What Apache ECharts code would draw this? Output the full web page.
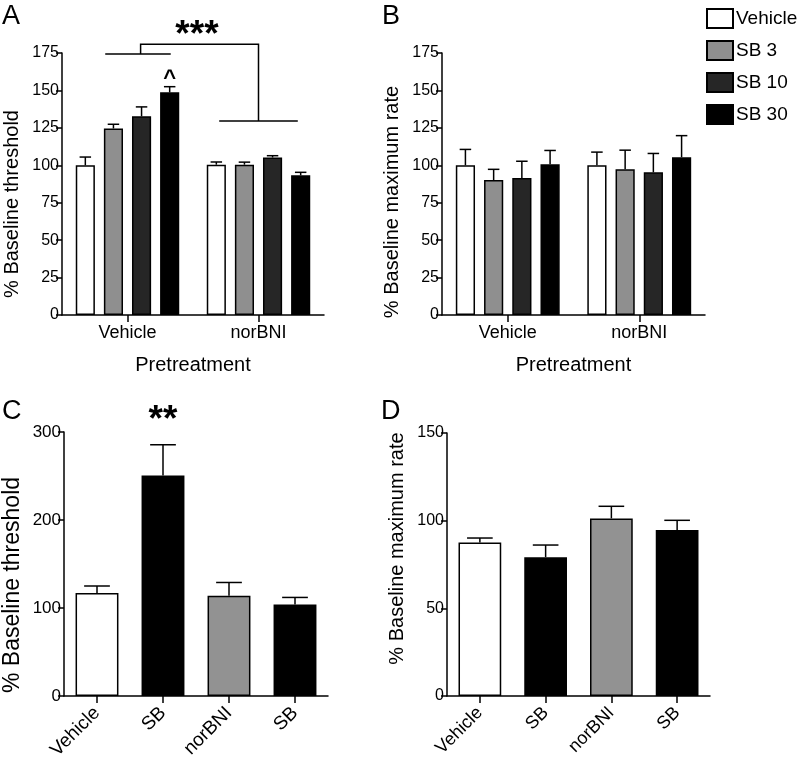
<!DOCTYPE html>
<html>
<head>
<meta charset="utf-8">
<script src="https://cdn.jsdelivr.net/npm/echarts@6/dist/echarts.min.js"></script>
<style>
html,body{margin:0;padding:0;background:#fff;}
#chart{width:797px;height:765px;}
</style>
</head>
<body>
<div id="chart"></div>
<script>
// ---------- data ----------
const pretreatCategories = ['Vehicle', 'norBNI'];
const doseNames = ['Vehicle', 'SB 3', 'SB 10', 'SB 30'];

// Panel A: % baseline threshold (mean, SEM) per dose, per pretreatment
const aVehicleMean = [100.0, 100.4];
const aVehicleSem  = [5.5, 1.8];
const aSB3Mean     = [124.6, 100.4];
const aSB3Sem      = [2.8, 1.7];
const aSB10Mean    = [132.7, 105.2];
const aSB10Sem     = [6.3, 1.2];
const aSB30Mean    = [148.7, 93.3];
const aSB30Sem     = [3.8, 2.0];

// Panel B: % baseline maximum rate
const bVehicleMean = [100.0, 100.0];
const bVehicleSem  = [10.6, 8.8];
const bSB3Mean     = [90.1, 97.3];
const bSB3Sem      = [7.2, 12.8];
const bSB10Mean    = [91.5, 95.3];
const bSB10Sem     = [11.2, 12.6];
const bSB30Mean    = [100.7, 105.4];
const bSB30Sem     = [9.2, 14.4];

// Panels C and D
const cdCategories = ['Vehicle', 'SB', 'norBNI', 'SB'];
const cMean = [117.0, 250.5, 114.0, 104.0];
const cSem  = [8.0, 35.0, 15.0, 8.0];
const dMean = [87.6, 79.2, 101.3, 94.7];
const dSem  = [2.5, 6.9, 6.9, 5.5];

// tick settings
const abTicks = {min: 0, max: 175, interval: 25};
const cTicks  = {min: 0, max: 300, interval: 100};
const dTicks  = {min: 0, max: 150, interval: 50};

// significance bracket in panel A (data units: x = group index, y = %)
const bracketA = [
  [[-0.17, 174.4], [0.33, 174.4]],
  [[0.10, 174.4], [0.10, 180.8], [1.00, 180.8], [1.00, 129.5]],
  [[0.70, 129.5], [1.30, 129.5]]
];

// ---------- styling ----------
const FONT = 'Liberation Sans, Arial, Helvetica, sans-serif';
const doseColors = ['#ffffff', '#8f8f8f', '#262626', '#000000'];
const cdColors = ['#ffffff', '#000000', '#929292', '#000000'];
const LW = 1.5;

const abMeans = [[aVehicleMean, aSB3Mean, aSB10Mean, aSB30Mean], [bVehicleMean, bSB3Mean, bSB10Mean, bSB30Mean]];
const abSems  = [[aVehicleSem, aSB3Sem, aSB10Sem, aSB30Sem], [bVehicleSem, bSB3Sem, bSB10Sem, bSB30Sem]];

const BAR_FRAC = 0.146, BAR_GAP = 0.47;
const STEP_FRAC = BAR_FRAC * (1 + BAR_GAP);
const CD_BAR_FRAC = 0.65;

function errRender(nSlots, stepFrac, barFrac) {
  return function (params, api) {
    const band = api.size([1, 0])[0];
    const slot = api.value(3);
    const dx = (slot - (nSlots - 1) / 2) * stepFrac * band;
    const p0 = api.coord([api.value(0), api.value(1)]);
    const p1 = api.coord([api.value(0), api.value(2)]);
    const x = p0[0] + dx;
    const half = barFrac * band * 0.3;
    return {
      type: 'group',
      children: [
        {type: 'line', shape: {x1: x, y1: p0[1], x2: x, y2: p1[1]}, style: {stroke: '#000', lineWidth: LW}},
        {type: 'line', shape: {x1: x - half, y1: p1[1], x2: x + half, y2: p1[1]}, style: {stroke: '#000', lineWidth: LW}}
      ]
    };
  };
}

const axisLineStyle = {show: true, onZero: false, lineStyle: {color: '#000', width: LW}};
function yAxis(gridIndex, ticks, name, pad, labelSize, nameSize, gap) {
  return {
    type: 'value', gridIndex, min: ticks.min, max: ticks.max, interval: ticks.interval,
    name, nameLocation: 'middle', nameGap: gap,
    nameTextStyle: {fontSize: nameSize, color: '#000', fontFamily: FONT, padding: pad},
    axisLine: axisLineStyle,
    axisTick: {show: true, length: 6, lineStyle: {color: '#000', width: LW}},
    axisLabel: {fontSize: labelSize, color: '#000', fontFamily: FONT, margin: 3},
    splitLine: {show: false}
  };
}
function catAxis(gridIndex, data, name, rotate, labelSize, margin) {
  return {
    type: 'category', gridIndex, data,
    name, nameLocation: 'middle', nameGap: 40,
    nameTextStyle: {fontSize: 20, color: '#000', fontFamily: FONT},
    axisLine: axisLineStyle,
    axisTick: {show: true, alignWithLabel: true, length: 7, lineStyle: {color: '#000', width: LW}},
    axisLabel: {fontSize: labelSize, color: '#000', fontFamily: FONT, rotate: rotate || 0, margin: margin, interval: 0},
    splitLine: {show: false}
  };
}
function hiddenValueX(gridIndex, n) {
  return {type: 'value', gridIndex, min: -0.5, max: n - 0.5, show: false, splitLine: {show: false},
    axisLine: {show: false, onZero: false}};
}

const series = [];
// Panels A and B bars + error bars
[0, 1].forEach(function (p) {
  const xIdx = p === 0 ? 0 : 2;
  const errData = [];
  doseNames.forEach(function (name, s) {
    const means = abMeans[p][s], sems = abSems[p][s];
    series.push({
      type: 'bar', name, xAxisIndex: xIdx, yAxisIndex: p,
      data: means,
      barWidth: (BAR_FRAC * 100) + '%', barGap: (BAR_GAP * 100) + '%',
      itemStyle: {color: doseColors[s], borderColor: '#000', borderWidth: LW},
      emphasis: {disabled: true}
    });
    means.forEach(function (m, c) { errData.push([c, m, m + sems[c], s]); });
  });
  series.push({
    type: 'custom', name: 'err' + p, xAxisIndex: xIdx, yAxisIndex: p,
    renderItem: errRender(4, STEP_FRAC, BAR_FRAC),
    encode: {x: 0, y: [1, 2]}, data: errData, z: 5, silent: true
  });
});

// Panels C and D
[[cMean, cSem, 3, 2], [dMean, dSem, 5, 3]].forEach(function (cfg) {
  const means = cfg[0], sems = cfg[1], xIdx = cfg[2], yIdx = cfg[3];
  series.push({
    type: 'bar', name: 'bars' + yIdx, xAxisIndex: xIdx, yAxisIndex: yIdx,
    data: means.map(function (m, i) { return {value: m, itemStyle: {color: cdColors[i]}}; }),
    barWidth: (CD_BAR_FRAC * 100) + '%',
    itemStyle: {borderColor: '#000', borderWidth: LW},
    emphasis: {disabled: true}
  });
  series.push({
    type: 'custom', name: 'errcd' + yIdx, xAxisIndex: xIdx, yAxisIndex: yIdx,
    renderItem: errRender(1, 0, CD_BAR_FRAC),
    encode: {x: 0, y: [1, 2]},
    data: means.map(function (m, i) { return [i, m, m + sems[i], 0]; }),
    z: 5, silent: true
  });
});

// bracket in A
series.push({
  type: 'lines', coordinateSystem: 'cartesian2d', xAxisIndex: 1, yAxisIndex: 0,
  polyline: true, clip: false, silent: true,
  lineStyle: {color: '#000', width: LW, opacity: 1},
  data: bracketA.map(function (c) { return {coords: c}; }),
  z: 5
});

function sigLabel(xAxisIndex, yAxisIndex, point, text, size) {
  return {
    type: 'scatter', xAxisIndex, yAxisIndex, data: [point], symbolSize: 2,
    itemStyle: {color: 'rgba(0,0,0,0)'}, silent: true, clip: false, z: 6,
    label: {show: true, position: 'inside', formatter: text, color: '#000', opacity: 1,
      textBorderWidth: 0, fontSize: size, fontWeight: 'bold', fontFamily: FONT}
  };
}
series.push(sigLabel(1, 0, [0.53, 186.5], '***', 37));
series.push(sigLabel(1, 0, [0.322, 157.5], '^', 22));
series.push(sigLabel(4, 2, [1, 313], '**', 37));

const letter = function (t, x, y) {
  return {type: 'text', left: x, top: y, style: {text: t, fontSize: 27, fontFamily: FONT, fill: '#000'}};
};

const option = {
  animation: false,
  backgroundColor: '#fff',
  textStyle: {fontFamily: FONT},
  grid: [
    {left: 62, top: 53, width: 262, height: 262},
    {left: 442, top: 53, width: 263, height: 262},
    {left: 64, top: 432, width: 264, height: 264},
    {left: 447, top: 433, width: 263, height: 263}
  ],
  xAxis: [
    catAxis(0, pretreatCategories, 'Pretreatment', 0, 18, 9),
    hiddenValueX(0, 2),
    catAxis(1, pretreatCategories, 'Pretreatment', 0, 18, 9),
    catAxis(2, cdCategories, '', 45, 19, 14),
    hiddenValueX(2, 4),
    catAxis(3, cdCategories, '', 45, 18, 14)
  ],
  yAxis: [
    yAxis(0, abTicks, '% Baseline threshold', [0, 40, 0, 0], 16, 20, 40),
    yAxis(1, abTicks, '% Baseline maximum rate', [0, 36, 0, 0], 16, 20, 40),
    yAxis(2, cTicks, '% Baseline threshold', [0, 42, 0, 0], 17, 23, 40),
    yAxis(3, dTicks, '% Baseline maximum rate', [0, 0, 0, 32], 16, 20, 40)
  ],
  legend: {
    data: doseNames, orient: 'vertical', left: 706, top: 8, padding: 0,
    icon: 'rect', itemWidth: 26, itemHeight: 19, itemGap: 11,
    textStyle: {fontSize: 19, color: '#000', fontFamily: FONT, padding: [0, 0, 0, -2]},
    selectedMode: false
  },
  graphic: [letter('A', 2, 3), letter('B', 382, 3), letter('C', 2, 398), letter('D', 381, 398)],
  series
};

const chart = echarts.init(document.getElementById('chart'), null, {renderer: 'canvas'});
chart.setOption(option);
</script>
</body>
</html>
